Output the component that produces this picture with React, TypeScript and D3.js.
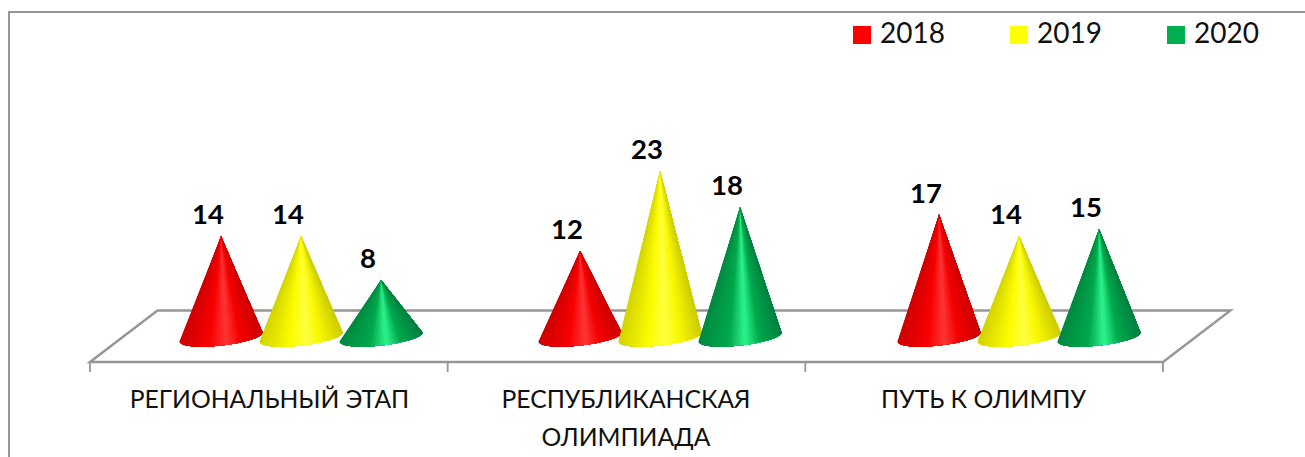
import * as d3 from 'd3'

// --- DATA ---
const categories = ['РЕГИОНАЛЬНЫЙ ЭТАП', 'РЕСПУБЛИКАНСКАЯ ОЛИМПИАДА', 'ПУТЬ К ОЛИМПУ']
const seriesNames = ['2018', '2019', '2020']
const values2018 = [14, 12, 17]
const values2019 = [14, 23, 14]
const values2020 = [8, 18, 15]
const allValues = [values2018, values2019, values2020]

// dark edge, mid, highlight for each series
const legendColors = ['#ff0000', '#ffff00', '#00b050']
const shadeStops = [
  ['#d00000', '#f80000', '#ff3636', '#f40000', '#cc0000'],
  ['#d4d400', '#fcfc00', '#ffff40', '#f8f800', '#cccc00'],
  ['#008a40', '#00a84c', '#2cf58c', '#00a84c', '#008040'],
]

const WIDTH = 1305
const HEIGHT = 457
const GRAY = '#969696'
const FONT = 'Lato, Carlito, "Open Sans", sans-serif'

// --- GEOMETRY OF THE 3D FLOOR ---
const floorLeft = 90
const floorRight = 1163
const floorFront = 362
const floorDepthX = 67.5
const floorDepthY = 51.5
const baseY = 337
const coneRx = 41.5
const coneRy = 8.5
const coneTilt = 4.5

export default function App() {
  const x0 = d3.scaleBand<string>().domain(categories).range([floorLeft, floorRight])
  // cones sit in the depth of the floor, so their bands are offset from the ticks
  const xCone = d3.scaleBand<string>().domain(categories).range([181, 1258])
  const x1 = d3.scaleBand<string>().domain(seriesNames).range([0, 240])
  const y = d3.scaleLinear().domain([0, 23]).range([baseY + 1, 171])

  // painted left to right, each piece runs to the right edge so no seams show
  const coneSlices = (cx: number, tipY: number, seriesIdx: number) => {
    const shade = d3
      .scaleLinear<string>()
      .domain([-1, -0.3, 0.1, 0.45, 1])
      .range(shadeStops[seriesIdx])
    const thetas = d3.range(0, 49).map((i) => Math.PI - (i / 48) * Math.PI)
    const rim = thetas.map((t) => [
      cx + coneRx * Math.cos(t),
      baseY + coneRy * Math.sin(t) - coneTilt * Math.cos(t),
    ])
    return thetas.slice(0, -1).map((t, i) => {
      const p = d3.path()
      p.moveTo(cx, tipY)
      rim.slice(i).forEach(([px, py]) => p.lineTo(px, py))
      p.closePath()
      return { d: p.toString(), fill: shade(Math.cos(t)) }
    })
  }

  const floor = d3.path()
  floor.moveTo(floorLeft, floorFront)
  floor.lineTo(floorLeft + floorDepthX, floorFront - floorDepthY)
  floor.lineTo(floorRight + floorDepthX, floorFront - floorDepthY)
  floor.lineTo(floorRight, floorFront)
  floor.closePath()

  const legendX = [853, 1010, 1167]

  return (
    <svg
      width={WIDTH}
      height={HEIGHT}
      style={{ position: 'absolute', left: 0, top: 0, background: '#fff' }}
      fontFamily={FONT}
    >
      {/* chart frame, only top and left edges are in the crop */}
      <path d={`M9 ${HEIGHT}V12H${WIDTH}`} fill="none" stroke={GRAY} strokeWidth={2} />

      {/* floor */}
      <path d={floor.toString()} fill="#fff" stroke={GRAY} strokeWidth={2.4} />
      {[...categories.map((c) => x0(c) as number), floorRight].map((t) => (
        <line key={t} x1={t} x2={t} y1={floorFront} y2={372} stroke={GRAY} strokeWidth={1.8} />
      ))}

      {/* cones */}
      {categories.map((c, ci) => (
        <g key={c}>
          {seriesNames.map((s, si) => {
            const cx = (xCone(c) as number) + (x1(s) as number) + x1.bandwidth() / 2
            const tipY = y(allValues[si][ci])
            return (
              <g key={s}>
                {coneSlices(cx, tipY, si).map((sl, i) => (
                  <path key={i} d={sl.d} fill={sl.fill} />
                ))}
                <text
                  x={cx - 13}
                  y={tipY - 12}
                  textAnchor="middle"
                  fontWeight={700}
                  fontSize={27.5}
                  fill="#000"
                >
                  {allValues[si][ci]}
                </text>
              </g>
            )
          })}
        </g>
      ))}

      {/* category labels */}
      <text x={269.5} y={408} textAnchor="middle" fontSize={24.7} fill="#111">
        {categories[0]}
      </text>
      <text x={626} y={408} textAnchor="middle" fontSize={24.7} fill="#111">
        РЕСПУБЛИКАНСКАЯ
      </text>
      <text x={626} y={446} textAnchor="middle" fontSize={24.7} fill="#111">
        ОЛИМПИАДА
      </text>
      <text x={983.5} y={408} textAnchor="middle" fontSize={24.7} fill="#111">
        {categories[2]}
      </text>

      {/* legend */}
      {seriesNames.map((s, i) => (
        <g key={s}>
          <rect x={legendX[i]} y={26} width={18} height={18} fill={legendColors[i]} />
          <text x={legendX[i] + 27} y={43} fontSize={28} fill="#111">
            {s}
          </text>
        </g>
      ))}
    </svg>
  )
}
